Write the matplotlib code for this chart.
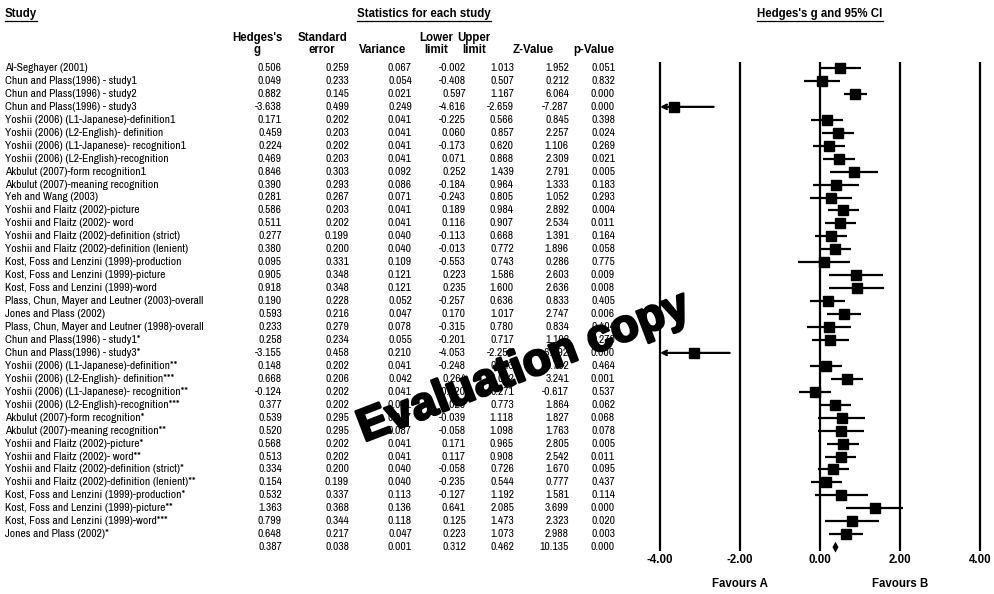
import matplotlib
matplotlib.use("Agg")
import matplotlib.pyplot as plt
import matplotlib.patheffects as pe
from matplotlib import font_manager
from matplotlib.font_manager import FontProperties

# ---- data ----
studies = [
    "Al-Seghayer (2001)",
    "Chun and Plass(1996) - study1",
    "Chun and Plass(1996) - study2",
    "Chun and Plass(1996) - study3",
    "Yoshii (2006) (L1-Japanese)-definition1",
    "Yoshii (2006) (L2-English)- definition",
    "Yoshii (2006) (L1-Japanese)- recognition1",
    "Yoshii (2006) (L2-English)-recognition",
    "Akbulut (2007)-form recognition1",
    "Akbulut (2007)-meaning recognition",
    "Yeh and Wang (2003)",
    "Yoshii and Flaitz (2002)-picture",
    "Yoshii and Flaitz (2002)- word",
    "Yoshii and Flaitz (2002)-definition (strict)",
    "Yoshii and Flaitz (2002)-definition (lenient)",
    "Kost, Foss and Lenzini (1999)-production",
    "Kost, Foss and Lenzini (1999)-picture",
    "Kost, Foss and Lenzini (1999)-word",
    "Plass, Chun, Mayer and Leutner (2003)-overall",
    "Jones and Plass (2002)",
    "Plass, Chun, Mayer and Leutner (1998)-overall",
    "Chun and Plass(1996) - study1*",
    "Chun and Plass(1996) - study3*",
    "Yoshii (2006) (L1-Japanese)-definition**",
    "Yoshii (2006) (L2-English)- definition***",
    "Yoshii (2006) (L1-Japanese)- recognition**",
    "Yoshii (2006) (L2-English)-recognition***",
    "Akbulut (2007)-form recognition*",
    "Akbulut (2007)-meaning recognition**",
    "Yoshii and Flaitz (2002)-picture*",
    "Yoshii and Flaitz (2002)- word**",
    "Yoshii and Flaitz (2002)-definition (strict)*",
    "Yoshii and Flaitz (2002)-definition (lenient)**",
    "Kost, Foss and Lenzini (1999)-production*",
    "Kost, Foss and Lenzini (1999)-picture**",
    "Kost, Foss and Lenzini (1999)-word***",
    "Jones and Plass (2002)*",
]
hedges_g = [0.506, 0.049, 0.882, -3.638, 0.171, 0.459, 0.224, 0.469, 0.846, 0.390,
            0.281, 0.586, 0.511, 0.277, 0.380, 0.095, 0.905, 0.918, 0.190, 0.593,
            0.233, 0.258, -3.155, 0.148, 0.668, -0.124, 0.377, 0.539, 0.520, 0.568,
            0.513, 0.334, 0.154, 0.532, 1.363, 0.799, 0.648]
std_err = [0.259, 0.233, 0.145, 0.499, 0.202, 0.203, 0.202, 0.203, 0.303, 0.293,
           0.267, 0.203, 0.202, 0.199, 0.200, 0.331, 0.348, 0.348, 0.228, 0.216,
           0.279, 0.234, 0.458, 0.202, 0.206, 0.202, 0.202, 0.295, 0.295, 0.202,
           0.202, 0.200, 0.199, 0.337, 0.368, 0.344, 0.217]
variance = [0.067, 0.054, 0.021, 0.249, 0.041, 0.041, 0.041, 0.041, 0.092, 0.086,
            0.071, 0.041, 0.041, 0.040, 0.040, 0.109, 0.121, 0.121, 0.052, 0.047,
            0.078, 0.055, 0.210, 0.041, 0.042, 0.041, 0.041, 0.087, 0.087, 0.041,
            0.041, 0.040, 0.040, 0.113, 0.136, 0.118, 0.047]
lower = [-0.002, -0.408, 0.597, -4.616, -0.225, 0.060, -0.173, 0.071, 0.252, -0.184,
         -0.243, 0.189, 0.116, -0.113, -0.013, -0.553, 0.223, 0.235, -0.257, 0.170,
         -0.315, -0.201, -4.053, -0.248, 0.264, -0.520, -0.020, -0.039, -0.058, 0.171,
         0.117, -0.058, -0.235, -0.127, 0.641, 0.125, 0.223]
upper = [1.013, 0.507, 1.167, -2.659, 0.566, 0.857, 0.620, 0.868, 1.439, 0.964,
         0.805, 0.984, 0.907, 0.668, 0.772, 0.743, 1.586, 1.600, 0.636, 1.017,
         0.780, 0.717, -2.258, 0.543, 1.072, 0.271, 0.773, 1.118, 1.098, 0.965,
         0.908, 0.726, 0.544, 1.192, 2.085, 1.473, 1.073]
z_value = [1.952, 0.212, 6.064, -7.287, 0.845, 2.257, 1.106, 2.309, 2.791, 1.333,
           1.052, 2.892, 2.534, 1.391, 1.896, 0.286, 2.603, 2.636, 0.833, 2.747,
           0.834, 1.102, -6.892, 0.732, 3.241, -0.617, 1.864, 1.827, 1.763, 2.805,
           2.542, 1.670, 0.777, 1.581, 3.699, 2.323, 2.988]
p_value = [0.051, 0.832, 0.000, 0.000, 0.398, 0.024, 0.269, 0.021, 0.005, 0.183,
           0.293, 0.004, 0.011, 0.164, 0.058, 0.775, 0.009, 0.008, 0.405, 0.006,
           0.404, 0.270, 0.000, 0.464, 0.001, 0.537, 0.062, 0.068, 0.078, 0.005,
           0.011, 0.095, 0.437, 0.114, 0.000, 0.020, 0.003]
# summary (last row)
summary = [0.387, 0.038, 0.001, 0.312, 0.462, 10.135, 0.000]

xticks = [-4, -2, 0, 2, 4]
favours = [("Favours A", -2), ("Favours B", 2)]

# ---- fonts: a narrow face for the table body if one is installed ----
narrow_fp, body_fs = None, 7.2
for f in font_manager.fontManager.ttflist:
    if f.style != "normal" or f.weight not in (400, "normal", "regular"):
        continue
    if "Narrow" in f.name or (f.stretch in ("condensed", "semi-condensed")
                               and f.name in ("DejaVu Sans", "Liberation Sans",
                                              "Roboto", "Open Sans", "Noto Sans")):
        narrow_fp, body_fs = FontProperties(fname=f.fname), 8.3
        if "Narrow" in f.name:
            break
if narrow_fp is None:
    narrow_fp = FontProperties(family="Liberation Sans")
narrow_fp.set_size(body_fs)
BOLD = "Liberation Sans"

W, H = 995, 594
fig = plt.figure(figsize=(W / 100, H / 100), dpi=100)

# table axes in pixel units
tab = fig.add_axes([0, 0, 1, 1])
tab.set_xlim(0, W)
tab.set_ylim(H, 0)
tab.axis("off")

ROW0, ROW_H = 68.0, 12.95


def row_pix(i):
    return ROW0 + ROW_H * i


# column right edges / header centres (pixels)
col_right = [282, 349, 412, 466, 514, 569, 615]
col_head = [(257, ["Hedges's", "g"]), (322, ["Standard", "error"]), (383, ["", "Variance"]),
            (436, ["Lower", "limit"]), (474, ["Upper", "limit"]), (533, ["", "Z-Value"]),
            (594, ["", "p-Value"])]

hfs = 8.3
underlined = []
underlined.append(tab.text(5, 14, "Study", ha="left", va="center", fontsize=hfs,
                           fontweight="bold", family=BOLD))
underlined.append(tab.text(424, 14, "Statistics for each study", ha="center", va="center",
                           fontsize=hfs, fontweight="bold", family=BOLD))
underlined.append(tab.text(820, 14, "Hedges's g and 95% CI", ha="center", va="center",
                           fontsize=hfs, fontweight="bold", family=BOLD))
for xc, (l1, l2) in col_head:
    if l1:
        tab.text(xc, 38, l1, ha="center", va="center", fontsize=hfs,
                 fontweight="bold", family=BOLD)
    tab.text(xc, 50, l2, ha="center", va="center", fontsize=hfs,
             fontweight="bold", family=BOLD)

cols = [hedges_g, std_err, variance, lower, upper, z_value, p_value]
for i, name in enumerate(studies):
    y = row_pix(i)
    tab.text(5, y, name, ha="left", va="center", fontproperties=narrow_fp)
    for xr, col in zip(col_right, cols):
        tab.text(xr, y, f"{col[i]:.3f}", ha="right", va="center", fontproperties=narrow_fp)
ys = row_pix(len(studies))
for xr, v in zip(col_right, summary):
    tab.text(xr, ys, f"{v:.3f}", ha="right", va="center", fontproperties=narrow_fp)

# ---- forest plot axes ----
X0, PPU = 820, 40.0          # pixel of zero, pixels per unit
top_pix, bot_pix = 55, 560
ax = fig.add_axes([650 / W, 1 - bot_pix / H, 340 / W, (bot_pix - top_pix) / H])
ax.set_xlim((650 - X0) / PPU, (990 - X0) / PPU)
ax.set_ylim((bot_pix - ROW0) / ROW_H, (top_pix - ROW0) / ROW_H)
ax.axis("off")

n = len(studies)
ax.vlines(xticks, -0.45, n + 0.3, colors="black", lw=1.6)

for i in range(n):
    lo, hi, g = lower[i], upper[i], hedges_g[i]
    if lo < xticks[0]:
        ax.annotate("", xy=(xticks[0], i), xytext=(hi, i),
                    arrowprops=dict(arrowstyle="->", lw=1.6, color="black",
                                    shrinkA=0, shrinkB=0, mutation_scale=8))
    else:
        ax.plot([lo, hi], [i, i], color="black", lw=1.6, solid_capstyle="butt")
    ax.plot(g, i, marker="s", color="black", ms=7.8, mec="black")

g_s, lo_s, hi_s = summary[0], summary[3], summary[4]
ax.fill([lo_s, g_s, hi_s, g_s], [n, n - 0.42, n, n + 0.42], color="black", lw=0)

for v in xticks:
    ax.text(v, (560 - ROW0) / ROW_H, f"{v:.2f}", ha="center", va="center",
            fontsize=hfs, fontweight="bold", family=BOLD, clip_on=False)
for label, v in favours:
    ax.text(v, (584 - ROW0) / ROW_H, label, ha="center", va="center",
            fontsize=hfs, fontweight="bold", family=BOLD, clip_on=False)

# watermark
fig.text(364 / W, 1 - 442 / H, "Evaluation copy", ha="left", va="baseline", rotation=21,
         rotation_mode="anchor", fontsize=33, fontweight="bold", family=BOLD,
         color="black", path_effects=[pe.withStroke(linewidth=1.8, foreground="black")])

# underline headings
fig.canvas.draw()
r = fig.canvas.get_renderer()
inv = tab.transData.inverted()
for t in underlined:
    bb = t.get_window_extent(renderer=r)
    (x0, y0), (x1, _) = inv.transform([[bb.x0, bb.y0], [bb.x1, bb.y0]])
    tab.plot([x0, x1], [y0 + 1, y0 + 1], color="black", lw=0.9)

fig.savefig("out.png", dpi=100)
